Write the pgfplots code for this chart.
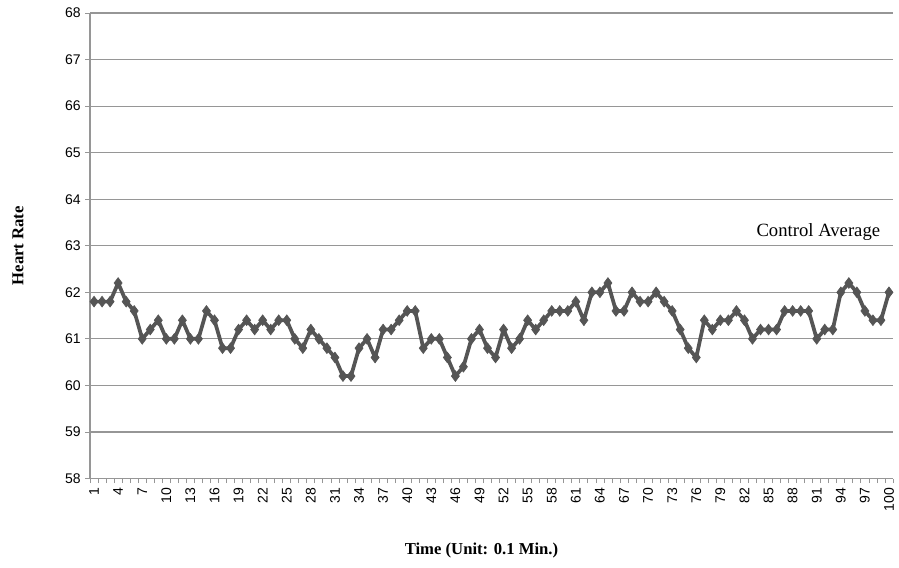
\documentclass[border=0pt]{standalone}
\usepackage{fontspec}
\setmainfont{Liberation Serif}
\setsansfont{Liberation Sans}
\usepackage{pgfplots}
\pgfplotsset{compat=1.18}
\definecolor{ser}{RGB}{85,85,85}
\definecolor{gridc}{RGB}{150,150,150}
\begin{document}
\begin{tikzpicture}
\begin{axis}[
  scale only axis,
  width=602pt, height=349pt,
  xmin=0.5, xmax=100.5,
  ymin=58, ymax=68,
  ytick={58,59,...,68},
  xtick={1,4,...,100},
  minor xtick={0.5,1.5,...,100.5},
  major x tick style={draw=none},
  minor tick length=3.5pt,
  major tick length=3.5pt,
  tick align=outside,
  axis x line*=bottom,
  axis y line*=left,
  axis line style={gridc, line width=0.8pt},
  every tick/.style={gridc, line width=0.6pt},
  ymajorgrids,
  grid style={gridc, line width=0.9pt},
  /pgf/number format/assume math mode=true,
  tick label style={font=\sffamily\fontsize{10.5}{12}\selectfont, black},
  xticklabel style={rotate=90, anchor=east},
  ylabel={\textbf{Heart Rate}},
  xlabel={\textbf{Time (Unit: 0.1 Min.)}},
  label style={font=\fontsize{12.5}{14}\selectfont},
  ylabel style={at={(axis description cs:-0.0897,0.5)}, anchor=center},
  xlabel style={at={(axis description cs:0.4875,-0.1547)}, anchor=center},
  clip=false,
]
\addplot[color=ser, line width=2.8pt, mark=diamond*, mark size=4pt, mark options={solid, fill=ser, line width=0.5pt}] coordinates {
(1,61.8)(2,61.8)(3,61.8)(4,62.2)(5,61.8)(6,61.6)(7,61.0)(8,61.2)(9,61.4)(10,61.0)
(11,61.0)(12,61.4)(13,61.0)(14,61.0)(15,61.6)(16,61.4)(17,60.8)(18,60.8)(19,61.2)(20,61.4)
(21,61.2)(22,61.4)(23,61.2)(24,61.4)(25,61.4)(26,61.0)(27,60.8)(28,61.2)(29,61.0)(30,60.8)
(31,60.6)(32,60.2)(33,60.2)(34,60.8)(35,61.0)(36,60.6)(37,61.2)(38,61.2)(39,61.4)(40,61.6)
(41,61.6)(42,60.8)(43,61.0)(44,61.0)(45,60.6)(46,60.2)(47,60.4)(48,61.0)(49,61.2)(50,60.8)
(51,60.6)(52,61.2)(53,60.8)(54,61.0)(55,61.4)(56,61.2)(57,61.4)(58,61.6)(59,61.6)(60,61.6)
(61,61.8)(62,61.4)(63,62.0)(64,62.0)(65,62.2)(66,61.6)(67,61.6)(68,62.0)(69,61.8)(70,61.8)
(71,62.0)(72,61.8)(73,61.6)(74,61.2)(75,60.8)(76,60.6)(77,61.4)(78,61.2)(79,61.4)(80,61.4)
(81,61.6)(82,61.4)(83,61.0)(84,61.2)(85,61.2)(86,61.2)(87,61.6)(88,61.6)(89,61.6)(90,61.6)
(91,61.0)(92,61.2)(93,61.2)(94,62.0)(95,62.2)(96,62.0)(97,61.6)(98,61.4)(99,61.4)(100,62.0)
};
\node[font=\fontsize{14}{16}\selectfont] at (axis cs:91.2,63.3) {Control Average};
\end{axis}
\path ([xshift=-67.5pt, yshift=-66.75pt]current axis.south west) rectangle ([xshift=4.5pt, yshift=9.75pt]current axis.north east);
\end{tikzpicture}
\end{document}
